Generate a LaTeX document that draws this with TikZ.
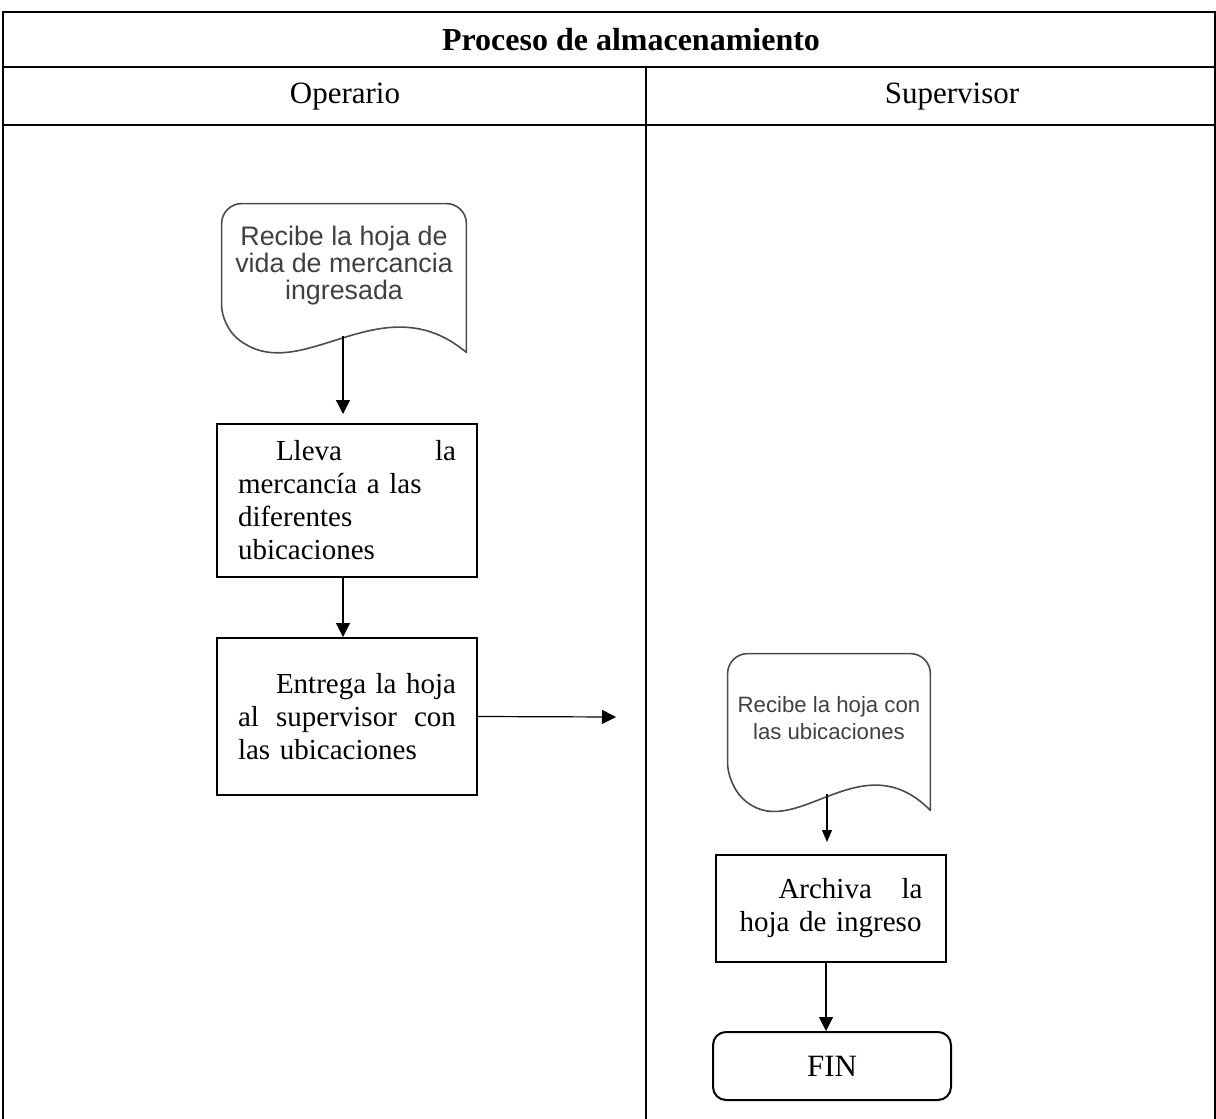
\documentclass[tikz,border=0pt]{standalone}
\usepackage{fontspec}
\setmainfont{Liberation Serif}
\newfontfamily\docfont{Liberation Sans}
\usetikzlibrary{arrows.meta}
\usetikzlibrary{calc}

\begin{document}
\begin{tikzpicture}[x=0.5pt, y=-0.5pt, >={Triangle[length=7pt,width=7pt]}]
\tikzstyle{caja} = [draw=black, line width=1pt, inner sep=0pt, align=left, font=\fontsize{14.5}{16.5}\selectfont]
\tikzstyle{hoja} = [inner sep=0pt, align=center, text=black!75]
\tikzstyle{borde} = [draw=black!70, line width=0.8pt, line cap=round]
\tikzstyle{flecha} = [draw=black, line width=0.6pt, ->]
\tikzstyle{linea} = [draw=black, line width=1pt]

\useasboundingbox (0,0) rectangle (1216,1119);

\draw[linea] (3,1119) -- (3,12) -- (1215,12) -- (1215,1119);
\draw[linea] (3,67) -- (1215,67);
\draw[linea] (3,125) -- (1215,125);
\draw[linea] (646,67) -- (646,1119);

\node[font=\bfseries\fontsize{16}{18}\selectfont] (titulo) at (631,40) {Proceso de almacenamiento};
\node[font=\fontsize{15.5}{18}\selectfont] (operario) at (345,97) {Operario};
\node[font=\fontsize{15.5}{18}\selectfont] (supervisor) at (952,97) {Supervisor};

\node[hoja, minimum width=122pt, minimum height=60.5pt, font=\docfont\fontsize{13.4}{13.5}\selectfont] (rec1) at (344,266) {Recibe la hoja de\\vida de mercancia\\ingresada};
\draw[borde] ($(rec1.south east)+(0,25.5)$) [rounded corners=10] |- ($(rec1.north west)+(0,-1.5)$) -- ($(rec1.south west)+(0,-1.5)$) [sharp corners] .. controls +(78,65) and +(-86,-72) .. ($(rec1.south east)+(0,25.5)$);
\coordinate (rec1w) at ($(rec1.south)+(-1,9.5)$);

\node[caja, minimum width=130pt, minimum height=76.5pt, text width=109pt] (lleva) at (347,500.5) {\hspace*{19pt}Lleva\hfill la\\mercancía a las\\diferentes\\ubicaciones};
\node[caja, minimum width=130pt, minimum height=78.5pt, text width=109pt] (entrega) at (347,716.5) {\hspace*{19pt}Entrega\hfill la\hfill hoja\\al\hfill supervisor\hfill con\\las ubicaciones};
\coordinate (destino) at (616,717);

\node[hoja, minimum width=101pt, minimum height=64.5pt, font=\docfont\fontsize{11.1}{13.5}\selectfont] (rec2) at (829,718.5) {Recibe la hoja con\\las ubicaciones};
\draw[borde] ($(rec2.south east)+(0,27)$) [rounded corners=10] |- (rec2.north west) -- (rec2.south west) [sharp corners] .. controls +(65,65) and +(-71,-72) .. ($(rec2.south east)+(0,27)$);
\coordinate (rec2w) at ($(rec2.south)+(-2,11)$);

\node[caja, minimum width=115pt, minimum height=53.5pt, text width=91.5pt] (archiva) at (831,908.5) {\hspace*{19.5pt}Archiva\hfill la\\hoja de ingreso};
\node[draw=black, line width=1pt, rounded corners=6.5pt, minimum width=119pt, minimum height=34pt, font=\fontsize{15.5}{18}\selectfont] (fin) at (832,1066) {FIN};

\draw[flecha, shorten >=4.5pt] (rec1w) -- (rec1w |- lleva.north);
\draw[flecha] (rec1w |- lleva.south) -- (rec1w |- entrega.north);
\draw[flecha] (entrega.east) -- (destino);
\draw[flecha, >={Triangle[length=6pt,width=5pt]}, shorten >=6pt] (rec2w) -- (rec2w |- archiva.north);
\draw[flecha] ([xshift=-2.5pt]archiva.south) -- ([xshift=-2.5pt]archiva.south |- fin.north);
\end{tikzpicture}
\end{document}
